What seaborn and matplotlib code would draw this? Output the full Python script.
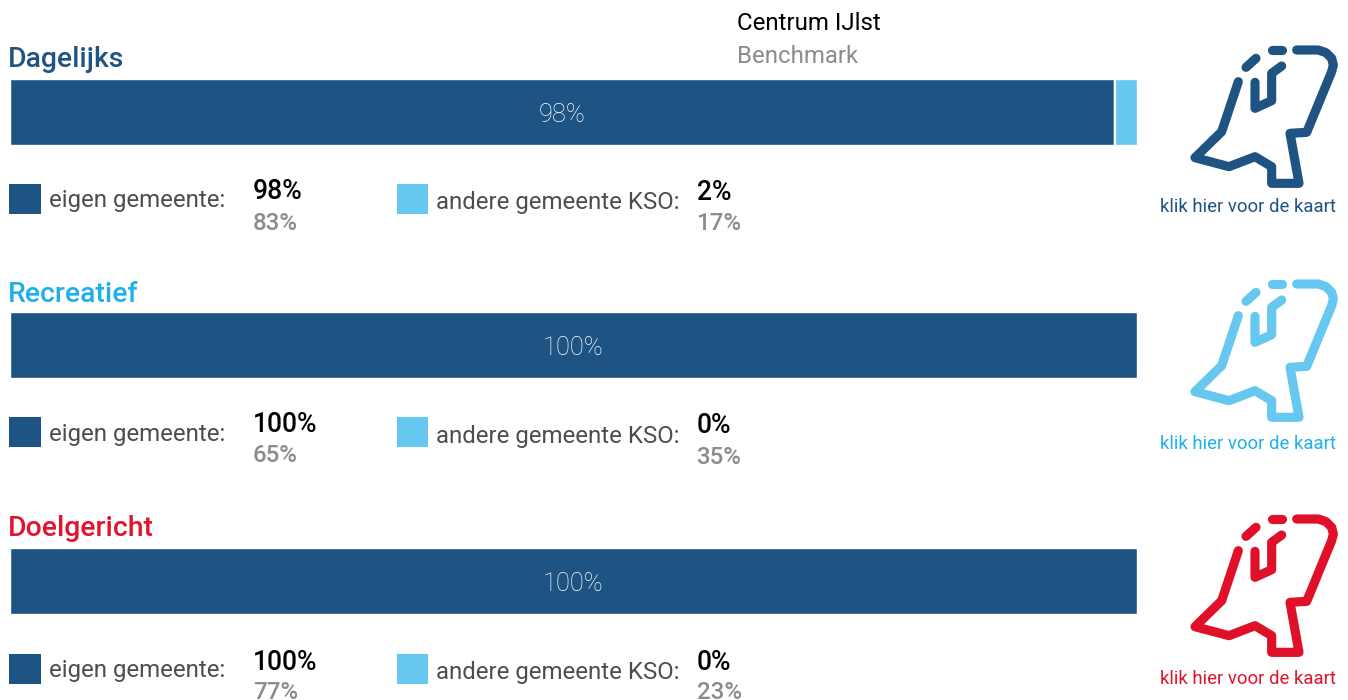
import matplotlib
matplotlib.use("Agg")
import matplotlib.pyplot as plt
import seaborn as sns
from matplotlib.patches import Rectangle

sns.set_theme(style="white")
plt.rcParams['font.family'] = ['Roboto', 'DejaVu Sans']

categories = ["Dagelijks", "Recreatief", "Doelgericht"]
own_values = [98, 100, 100]
other_values = [2, 0, 0]
bench_own = [83, 65, 77]
bench_other = [17, 35, 23]
own_label = "eigen gemeente:"
other_label = "andere gemeente KSO:"
map_label = "klik hier voor de kaart"
header_main = "Centrum IJlst"
header_bench = "Benchmark"

DARK = "#1d5483"
LIGHT = "#66c7f0"
title_colors = ["#1f5482", "#1fb0ea", "#e2132d"]
icon_colors = ["#1f5482", "#66c7f0", "#e01029"]
link_colors = ["#1f5482", "#1fb0ea", "#e2132d"]
W, H = 1348, 700

bar_tops = [80, 313, 549]
title_y = [56.5, 292, 526]
swatch_tops = [184, 417, 654]
own_text_y = [198.5, 431.5, 668.5]
other_text_y = [200.5, 433.5, 669.5]
own_val_y = [(188.5, 221), (422, 453), (659, 690)]
other_val_y = [(189.5, 221), (422.5, 455), (659, 690)]
icon_dy = [0, 234, 469]
link_y = [205.5, 442, 676.5]

icon_paths = [
    [(440, 60), (505, 60), (528, 68), (545, 85), (550, 105), (545, 125), (470, 307), (420, 310),
     (447, 460), (365, 460), (365, 410), (315, 380), (237, 410), (135, 383), (215, 305), (265, 155)],
    [(365, 60), (395, 60)],
    [(288, 112), (318, 85)],
    [(395, 108), (365, 130), (365, 212), (315, 235), (315, 157)],
]

fig = plt.figure(figsize=(W / 100, H / 100), dpi=100, facecolor="white")
ov = fig.add_axes([0, 0, 1, 1], zorder=5)
ov.set_xlim(0, W)
ov.set_ylim(H, 0)
ov.set_axis_off()
ov.patch.set_alpha(0)


def txt(x, y, s, size, color, weight="normal", ha="left"):
    ov.text(x, y, s, fontsize=size * 0.72, color=color, fontweight=weight,
            ha=ha, va="center_baseline", family=['Roboto', 'DejaVu Sans'])


txt(737, 21, header_main, 24, "black")
txt(737, 54, header_bench, 24, "#8c8c8c")

for i, cat in enumerate(categories):
    ax = fig.add_axes([9.7 / W, 1 - (bar_tops[i] + 65) / H, 1127.3 / W, 66 / H])
    total = own_values[i] + other_values[i]
    sns.barplot(x=[total], y=[cat], color=LIGHT, saturation=1, width=1, ax=ax, orient="h")
    sns.barplot(x=[own_values[i]], y=[cat], color=DARK, saturation=1, width=1, ax=ax, orient="h")
    if other_values[i] > 0:
        ax.axvline(own_values[i] + 0.05, color="white", lw=1.6)
    ax.set_xlim(0, 100)
    ax.set_ylim(0.5, -0.5)
    ax.set_axis_off()
    ax.text(own_values[i] / 2, 0.05, f"{own_values[i]}%", color="white", ha="center", va="center",
            fontsize=25.5 * 0.72, fontweight="light")

    txt(8, title_y[i], cat, 28.4, title_colors[i], "medium")

    ov.add_patch(Rectangle((9, swatch_tops[i]), 32, 30, color=DARK, lw=0))
    ov.add_patch(Rectangle((397, swatch_tops[i]), 31, 30, color=LIGHT, lw=0))
    txt(49, own_text_y[i], own_label, 24.0, "#4d4d4d")
    txt(436, other_text_y[i], other_label, 24.0, "#4d4d4d")
    txt(253, own_val_y[i][0], f"{own_values[i]}%", 26.5, "black", "medium")
    txt(253, own_val_y[i][1], f"{bench_own[i]}%", 24, "#8c8c8c", "medium")
    txt(697, other_val_y[i][0], f"{other_values[i]}%", 26.5, "black", "medium")
    txt(696.5, other_val_y[i][1], f"{bench_other[i]}%", 24, "#8c8c8c", "medium")

    for path in icon_paths:
        xs = [1150 + p[0] / 3 for p in path]
        ys = [30 + icon_dy[i] + p[1] / 3 for p in path]
        ov.plot(xs, ys, color=icon_colors[i], lw=6.6, solid_capstyle="round", solid_joinstyle="round")
    txt(1247.5, link_y[i], map_label, 18.7, link_colors[i], ha="center")

fig.savefig("out.png", dpi=100, facecolor="white")
